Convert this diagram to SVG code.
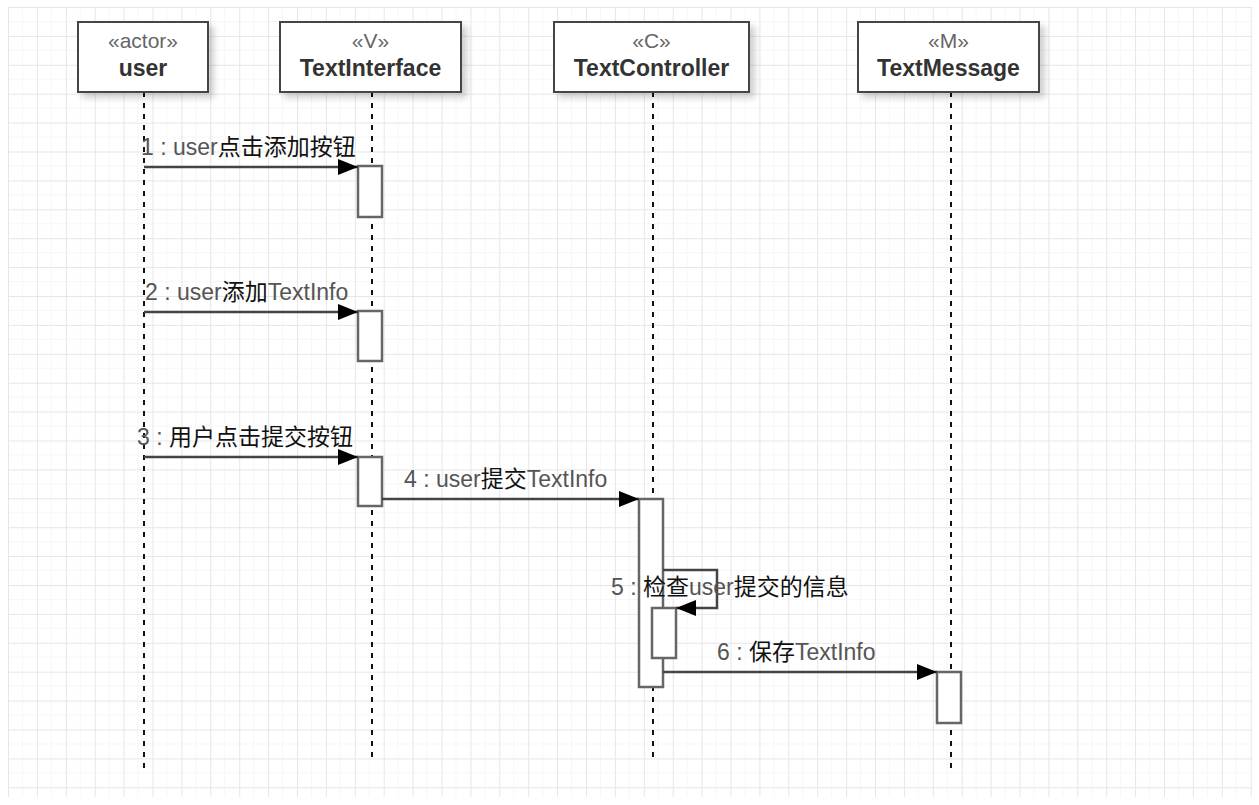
<svg xmlns="http://www.w3.org/2000/svg" width="1259" height="805" viewBox="0 0 1259 805">
  <defs>
    <pattern id="grid" patternUnits="userSpaceOnUse" x="8" y="7" width="28.9" height="28.9">
      <path d="M14.45 0 V28.9 M0 14.45 H28.9" stroke="#f7f7f7" stroke-width="1" fill="none"/>
      <path d="M0.5 0 V28.9 M0 0.5 H28.9" stroke="#e6e6e6" stroke-width="1" fill="none"/>
    </pattern>
    <filter id="shadow" x="-10%" y="-10%" width="130%" height="140%">
      <feDropShadow dx="5" dy="5" stdDeviation="3" flood-color="#000" flood-opacity="0.18"/>
    </filter>
    <marker id="arrow" markerUnits="userSpaceOnUse" markerWidth="22" markerHeight="17" refX="20" refY="8" orient="auto">
      <path d="M0,0 L20,8 L0,16 z" fill="#000"/>
    </marker>
  </defs>
  <style>
    .node rect { fill: #fff; stroke: #444; stroke-width: 2; }
    .stereo { font-family: "Liberation Sans", "Noto Sans CJK SC", sans-serif; font-size: 21px; fill: #666; text-anchor: middle; }
    .name { font-family: "Liberation Sans", "Noto Sans CJK SC", sans-serif; font-size: 23px; font-weight: bold; fill: #333; text-anchor: middle; }
    .life { stroke: #111; stroke-width: 2; stroke-dasharray: 5 6; fill: none; }
    .act { fill: #fff; stroke: #666; stroke-width: 2.5; }
    .msg { stroke: #444; stroke-width: 2.5; fill: none; }
    .lbl { font-family: "Liberation Sans", "Noto Sans CJK SC", sans-serif; font-size: 23px; fill: #555; }
    .cjk { fill: #111; }
  </style>

  <rect x="0" y="0" width="1259" height="805" fill="#fff"/>
  <rect x="8" y="7" width="1244" height="790" fill="url(#grid)"/>

  <g id="lifelines">
    <line class="life" x1="144" y1="92" x2="144" y2="772"/>
    <line class="life" x1="372" y1="92" x2="372" y2="760"/>
    <line class="life" x1="653" y1="92" x2="653" y2="760"/>
    <line class="life" x1="951" y1="92" x2="951" y2="772"/>
  </g>

  <g id="node-user" class="node">
    <rect x="78" y="22" width="130" height="70" filter="url(#shadow)"/>
    <text class="stereo" x="143" y="48">«actor»</text>
    <text class="name" x="143" y="76">user</text>
  </g>
  <g id="node-TextInterface" class="node">
    <rect x="280" y="22" width="181" height="70" filter="url(#shadow)"/>
    <text class="stereo" x="370.5" y="48">«V»</text>
    <text class="name" x="370.5" y="76">TextInterface</text>
  </g>
  <g id="node-TextController" class="node">
    <rect x="554" y="22" width="195" height="70" filter="url(#shadow)"/>
    <text class="stereo" x="651.5" y="48">«C»</text>
    <text class="name" x="651.5" y="76">TextController</text>
  </g>
  <g id="node-TextMessage" class="node">
    <rect x="858" y="22" width="181" height="70" filter="url(#shadow)"/>
    <text class="stereo" x="948.5" y="48">«M»</text>
    <text class="name" x="948.5" y="76">TextMessage</text>
  </g>

  <g id="activations">
    <rect class="act" x="358" y="166" width="24" height="51"/>
    <rect class="act" x="358" y="311" width="24" height="50"/>
    <rect class="act" x="358" y="457" width="24" height="49"/>
    <rect class="act" x="639" y="499" width="24" height="188"/>
    <rect class="act" x="652" y="608" width="24" height="50"/>
    <rect class="act" x="937" y="672" width="24" height="51"/>
  </g>

  <g id="connectors">
    <line class="msg" x1="144" y1="167" x2="358" y2="167" marker-end="url(#arrow)"/>
    <line class="msg" x1="144" y1="312" x2="358" y2="312" marker-end="url(#arrow)"/>
    <line class="msg" x1="144" y1="457" x2="358" y2="457" marker-end="url(#arrow)"/>
    <line class="msg" x1="382" y1="499" x2="639" y2="499" marker-end="url(#arrow)"/>
    <polyline class="msg" points="663,570 717,570 717,608 676,608" marker-end="url(#arrow)"/>
    <line class="msg" x1="663" y1="672" x2="937" y2="672" marker-end="url(#arrow)"/>
  </g>

  <g id="labels">
    <text class="lbl" x="141" y="155">1 : user<tspan class="cjk">点击添加按钮</tspan></text>
    <text class="lbl" x="145" y="300">2 : user<tspan class="cjk">添加</tspan>TextInfo</text>
    <text class="lbl" x="137" y="445">3 : <tspan class="cjk">用户点击提交按钮</tspan></text>
    <text class="lbl" x="404" y="487">4 : user<tspan class="cjk">提交</tspan>TextInfo</text>
    <text class="lbl" x="611" y="595">5 : <tspan class="cjk">检查</tspan>user<tspan class="cjk">提交的信息</tspan></text>
    <text class="lbl" x="717" y="660">6 : <tspan class="cjk">保存</tspan>TextInfo</text>
  </g>
</svg>
